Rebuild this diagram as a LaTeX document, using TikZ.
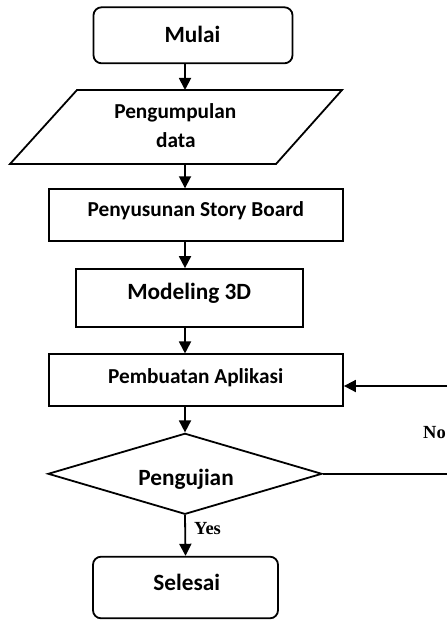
\documentclass[tikz,border=0pt]{standalone}
\usepackage{fontspec}
\setmainfont{Carlito}
\newfontfamily\serifb{Liberation Serif}
\usetikzlibrary{arrows.meta,shapes.geometric}
\begin{document}
\begin{tikzpicture}[x=1pt,y=-1pt,
  blk/.style={draw=black,line width=1.8pt,inner sep=0pt},
  term/.style={blk,rounded corners=8pt},
  arr/.style={line width=1.8pt,-{Triangle[width=12pt,length=12pt]}},
  plain/.style={line width=1.8pt,line join=miter},
  lbl/.style={font=\bfseries\fontsize{23.3}{27}\selectfont,anchor=base,inner sep=0pt},
  lbls/.style={font=\bfseries\fontsize{21.3}{25}\selectfont,anchor=base,inner sep=0pt},
  yn/.style={font=\serifb\bfseries\fontsize{18.5}{21}\selectfont,anchor=base west,inner sep=0pt}]
\useasboundingbox (0,0) rectangle (447,620);
\coordinate (ax) at (185,0);
% boxes
\node[term,minimum width=199pt,minimum height=56pt] (mulai) at (193,35.3) {};
\node[lbl] (tmulai) at (192.5,42.7) {Mulai};
\coordinate (pdbl) at (10,164);
\coordinate (pdbr) at (276,164);
\coordinate (pdtr) at (342,90);
\coordinate (pdtl) at (77,90);
\draw[plain] (pdbl) -- (pdbr) -- (pdtr) -- (pdtl) -- cycle;
\node[lbls] (tpd1) at (175.3,119) {Pengumpulan};
\node[lbls] (tpd2) at (175.8,148) {data};
\node[blk,minimum width=294pt,minimum height=52pt] (psb) at (196,215.2) {};
\node[lbls] (tpsb) at (195.8,216.7) {Penyusunan Story Board};
\node[blk,minimum width=227pt,minimum height=58.3pt] (mod) at (189.5,298.2) {};
\node[lbl] (tmod) at (189.2,299.3) {Modeling 3D};
\node[blk,minimum width=294pt,minimum height=51.7pt] (pa) at (196,380.2) {};
\node[lbls] (tpa) at (195.8,383.3) {Pembuatan Aplikasi};
\node[blk,diamond,minimum width=274pt,minimum height=81pt] (dia) at (185,473.8) {};
\node[lbl] (tdia) at (186,485) {Pengujian};
\node[term,minimum width=185pt,minimum height=61.6pt] (sel) at (185.5,587.5) {};
\node[lbl] (tsel) at (186.7,590) {Selesai};
% connectors
\draw[arr] (ax |- mulai.south) -- (ax |- pdtl);
\draw[arr] (ax |- pdbl) -- (ax |- psb.north);
\draw[arr] (ax |- psb.south) -- (ax |- mod.north);
\draw[arr] (ax |- mod.south) -- (ax |- pa.north);
\draw[arr] (ax |- pa.south) -- (dia.north);
\draw[arr] (dia.south) -- (sel.north);
\node[yn] (yes) at (194,534) {Yes};
\coordinate (e1) at (447,473.8);
\draw[plain] (dia.east) -- (e1);
\coordinate (e2) at (447,386);
\draw[arr] (e2) -- (e2 -| pa.east);
\node[yn] (no) at (423,438) {No};
\end{tikzpicture}
\end{document}
